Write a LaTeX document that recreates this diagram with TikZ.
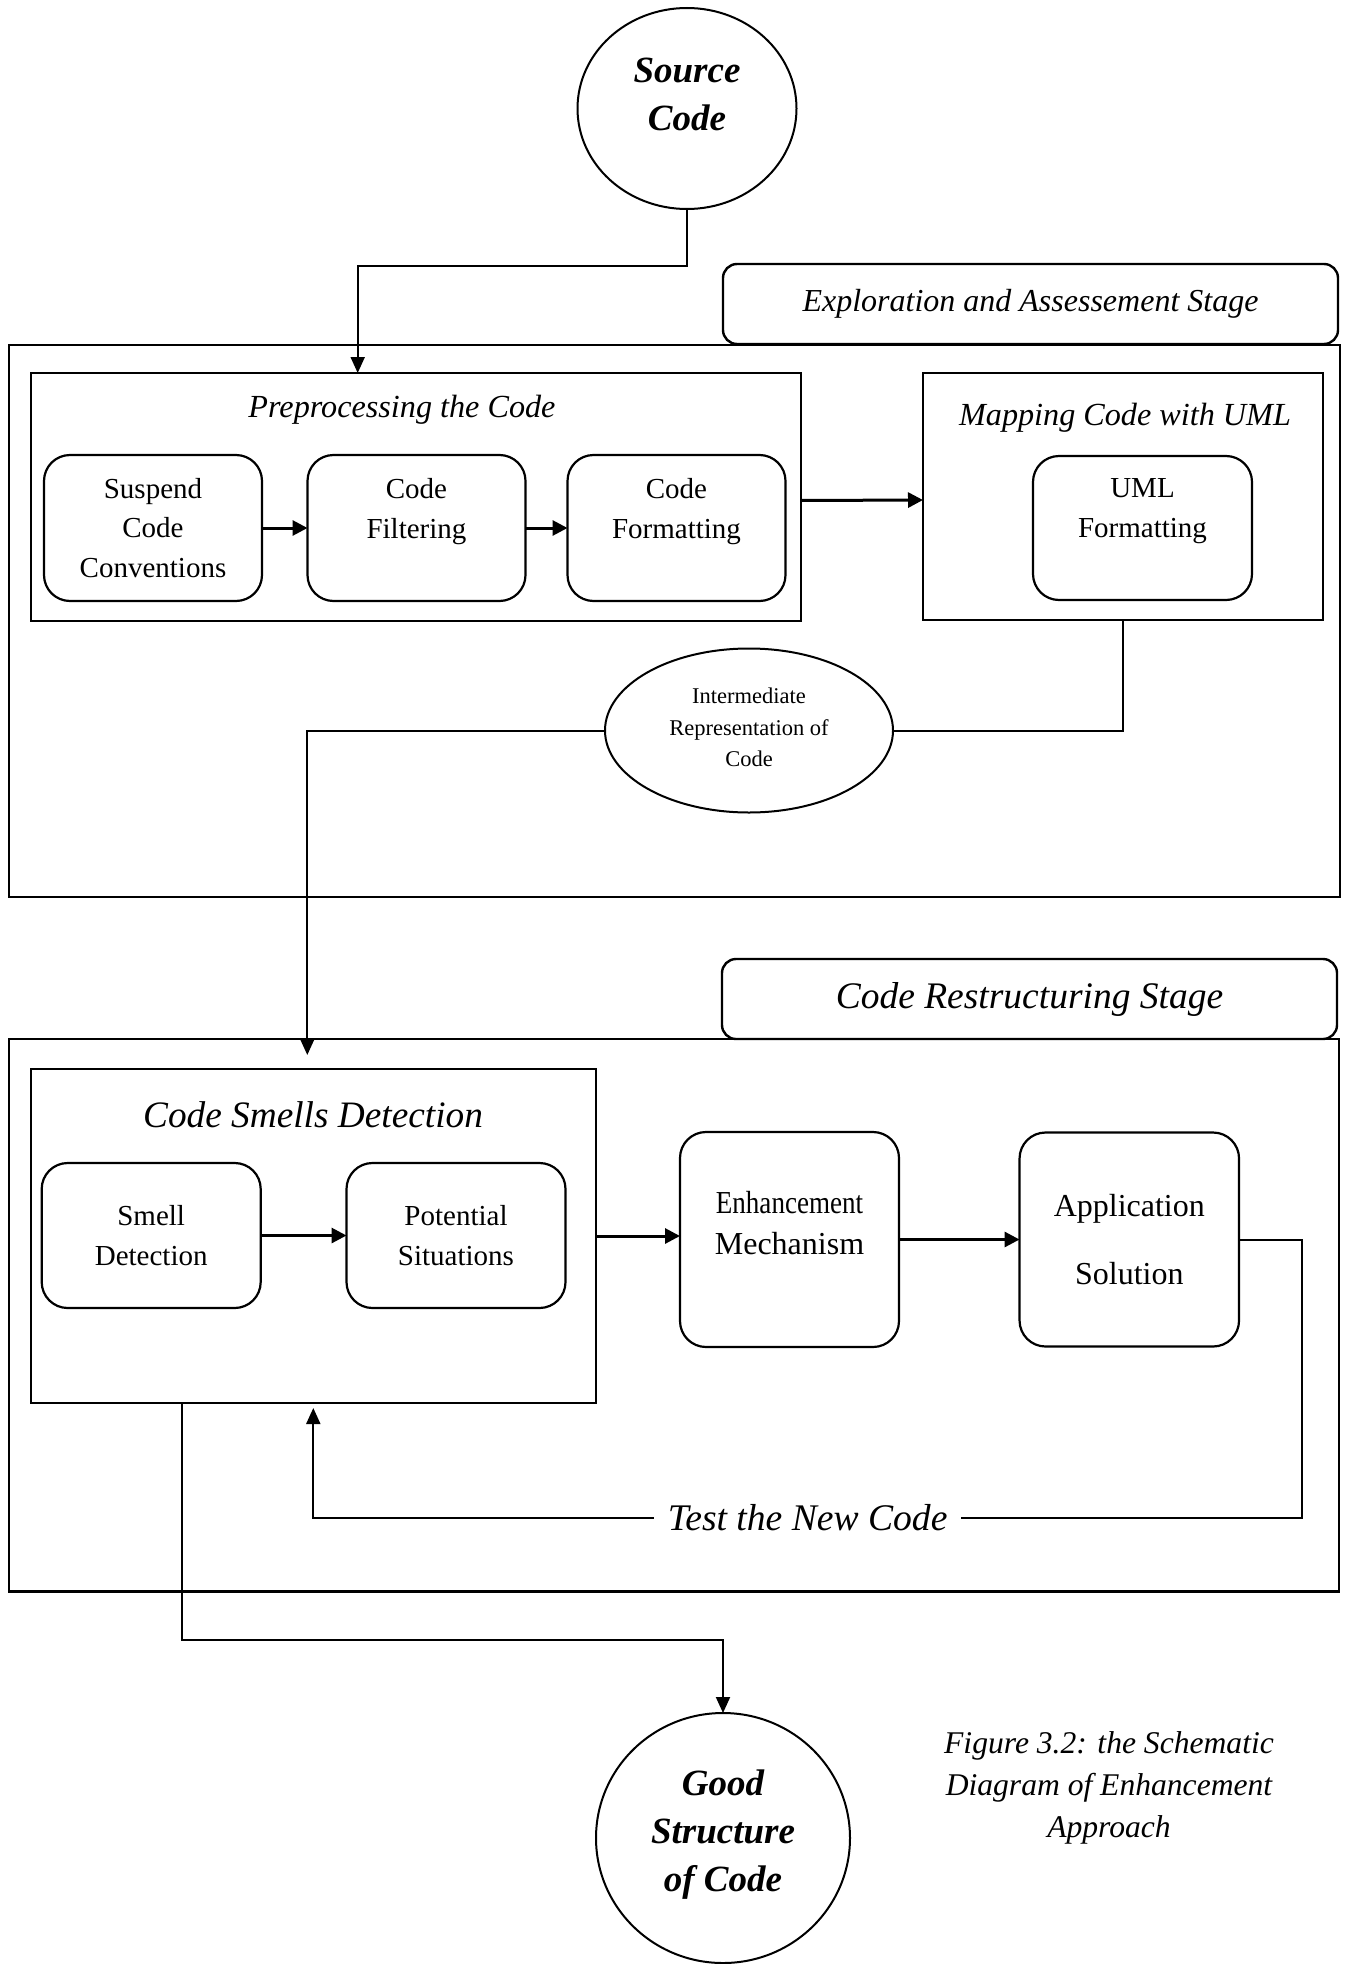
\documentclass[tikz,border=0pt]{standalone}
\usepackage{fontspec}
\setmainfont{Liberation Serif}
\usepackage{graphicx}
\usetikzlibrary{shapes.geometric,arrows.meta,calc}

\begin{document}
\begin{tikzpicture}[x=1pt,y=-1pt,
  every node/.style={inner sep=0pt, outer sep=0pt},
  frame/.style={draw, line width=2.4pt},
  stagebox/.style={draw, line width=2.4pt, rounded corners=14pt,
    minimum width=615pt, minimum height=80pt},
  procbox/.style={draw, line width=2.2pt, rounded corners=26pt, align=center,
    minimum width=218pt, font=\fontsize{29}{39.5}\selectfont},
  titletxt/.style={anchor=base, font=\fontsize{32.2}{38}\itshape\selectfont},
  bigtitle/.style={anchor=base, font=\fontsize{37.3}{44}\itshape\selectfont},
  bold/.style={align=center, font=\fontsize{37}{48}\bfseries\itshape\selectfont},
  conn/.style={line width=2pt},
  arr/.style={conn, -{Triangle[length=16pt,width=14pt]}},
  flow/.style={line width=3pt, -{Triangle[length=15pt,width=15pt]}}
]
\useasboundingbox (0,0) rectangle (1348,1964);

% ---------- input ----------
\node[ellipse, draw, line width=2pt, minimum width=219pt, minimum height=201pt] (src) at (687,108.5) {};
\node[bold] (srctxt) at (687,94.5) {Source\\Code};

% ---------- stage 1 ----------
\node[frame, minimum width=1331pt, minimum height=552pt] (stageA) at (674.5,621) {};
\node[stagebox, fill=white, font=\fontsize{32}{38}\itshape\selectfont]
  (stageAlbl) at (1030.5,304) {Exploration and Assessement Stage};

\node[frame, minimum width=770pt, minimum height=248pt] (pre) at (416,497) {};
\node[titletxt] (pretitle) at (402,417) {Preprocessing the Code};
\node[procbox, minimum height=146pt] (susp) at (153,528) {Suspend\\Code\\Conventions};
\node[procbox, minimum height=146pt] (filt) at (416.5,528) {Code\\Filtering\\\mbox{}};
\node[procbox, minimum height=146pt] (fmt) at (676.5,528) {Code\\Formatting\\\mbox{}};

\node[frame, minimum width=400pt, minimum height=247pt] (map) at (1123,496.5) {};
\node[titletxt] (maptitle) at (1125,425) {Mapping Code with UML};
\node[procbox, minimum width=219pt, minimum height=144pt] (uml) at (1142.5,528) {UML\\Formatting\\\mbox{}};

\node[ellipse, draw, line width=2pt, minimum width=288pt, minimum height=164pt, align=center,
  font=\fontsize{22.5}{31.5}\selectfont] (ir) at (749,730.5)
  {Intermediate\\Representation of\\Code\\[-25.5pt]\mbox{}};

\draw[flow] (susp) -- (filt);
\draw[flow] (filt) -- (fmt);
\draw[flow] ($(pre.east)+(0,3.5)$) -- ($(map.west)+(0,3.5)$);

% ---------- stage 2 ----------
\node[frame, minimum width=1330pt, minimum height=552.5pt] (stageB) at (674,1315.25) {};
\node[stagebox, fill=white, text height=19pt, text depth=0pt, font=\fontsize{37.5}{44}\itshape\selectfont]
  (stageBlbl) at (1029.5,999) {Code Restructuring Stage};

\node[frame, minimum width=565pt, minimum height=334pt] (csd) at (313.3,1236) {};
\node[bigtitle] (csdtitle) at (313,1127) {Code Smells Detection};
\node[procbox, minimum width=219pt, minimum height=145pt] (smell) at (151.2,1235.5) {Smell\\Detection};
\node[procbox, minimum width=219pt, minimum height=145pt] (pot) at (456,1235.5) {Potential\\Situations};

\node[procbox, minimum width=219pt, minimum height=215pt, font=\fontsize{32}{41}\selectfont]
  (enh) at (789.5,1239.5) {\scalebox{0.845}[1]{Enhancement}\\Mechanism\\[-8pt]\mbox{}};
\node[procbox, minimum width=219.5pt, minimum height=214pt, font=\fontsize{32}{68}\selectfont]
  (app) at (1129.3,1239.5) {Application\\Solution};

\draw[flow] (smell) -- (pot);
\draw[flow] (csd) -- (csd -| enh.west);
\draw[flow] (enh) -- (app);

% ---------- output ----------
\node[ellipse, draw, line width=2pt, minimum width=254pt, minimum height=250pt] (good) at (723,1838) {};
\node[bold] (goodtxt) at (723,1834.5) {Good\\Structure\\of Code};

\node[align=center, font=\fontsize{31.6}{42}\itshape\selectfont] (caption) at (1109,1787.5)
  {Figure 3.2: the Schematic\\Diagram of Enhancement\\Approach};

% ---------- connectors ----------
\coordinate (bend) at (357.7,265.7);
\draw[arr] (src.south) |- (bend) -- (bend |- pre.north);
\draw[conn] (map.south) |- (ir.east);
\draw[arr, shorten >=14pt] (ir.west) -| ($(csd.north)+(-6,0)$);

\coordinate (fbR) at (1302,1518);
\draw[arr, shorten >=5pt] (app.east) -| (fbR)
  -- node[fill=white, inner xsep=14pt, inner ysep=3pt, font=\fontsize{37.6}{42}\itshape\selectfont]
     (testlbl) {Test the New Code} (csd.south |- fbR) -- (csd.south);

\coordinate (outA) at ($(csd.south west)!0.2677!(csd.south east)$);
\draw[arr] (outA) -- ++(0,237) -| (good.north);
\end{tikzpicture}
\end{document}
